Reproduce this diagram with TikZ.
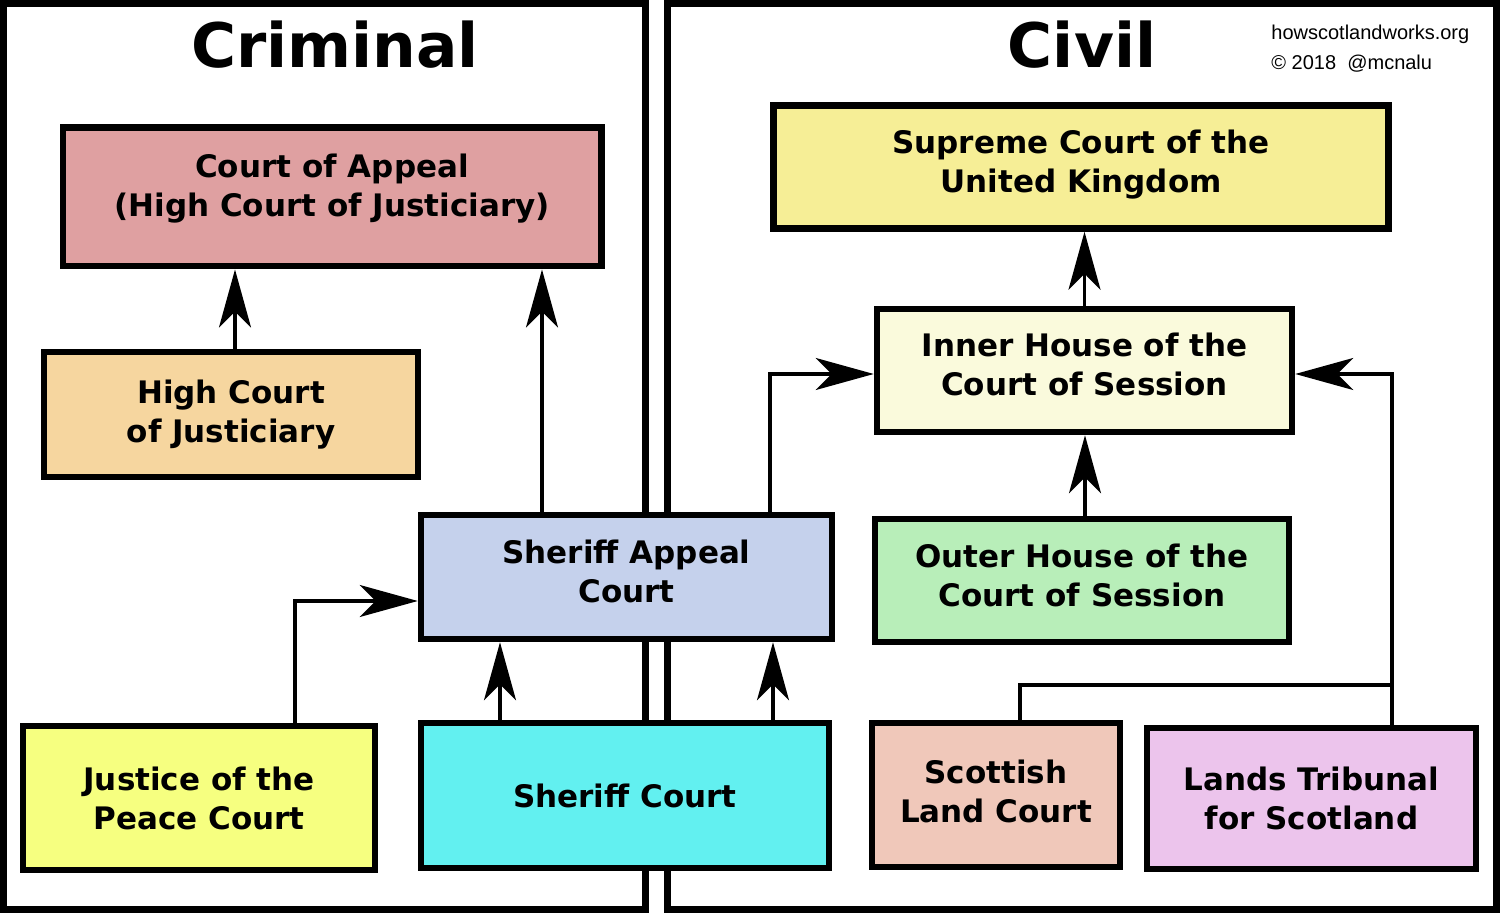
\documentclass[tikz,border=0pt]{standalone}
\usepackage{fontspec}
\setmainfont{DejaVu Sans}
\newfontfamily\creditfont{Liberation Sans}
\usetikzlibrary{calc,arrows.meta,positioning}
\definecolor{ct-appeal}{HTML}{DFA0A1}
\definecolor{ct-justiciary}{HTML}{F6D69F}
\definecolor{ct-sappeal}{HTML}{C5D1EC}
\definecolor{ct-peace}{HTML}{F6FF80}
\definecolor{ct-sheriff}{HTML}{62F0F0}
\definecolor{ct-supreme}{HTML}{F6EE96}
\definecolor{ct-inner}{HTML}{FAFADC}
\definecolor{ct-outer}{HTML}{B8EEB9}
\definecolor{ct-land}{HTML}{F0C8BA}
\definecolor{ct-tribunal}{HTML}{ECC4EC}

\begin{document}
\begin{tikzpicture}[x=0.5pt, y=-0.5pt, >={Stealth[length=29pt,width=16pt,inset=8pt]},
  court/.style={draw, line width=3.25pt, align=center, inner sep=0pt,
    font=\bfseries\fontsize{15.5}{19.5}\selectfont},
  link/.style={->, line width=1.6pt}]
\useasboundingbox (0,0) rectangle (1500,913);
% panels
\draw[line width=3.5pt] (3.5,3.5) rectangle (645.5,909.5);
\draw[line width=3.5pt] (667,3.5) rectangle (1496.5,909.5);
\node[anchor=base, font=\bfseries\fontsize{30.7}{36}\selectfont] (criminal) at (335,68) {Criminal};
\node[anchor=base, font=\bfseries\fontsize{30.7}{36}\selectfont] (civil) at (1082,68) {Civil};
\node[anchor=base west, inner sep=0pt, font=\creditfont\fontsize{10}{15}\selectfont] (site) at (1271,40) {howscotlandworks.org};
\node[anchor=base west, inner sep=0pt, font=\creditfont\fontsize{10}{15}\selectfont] (handle) at (1271,70) {© 2018\ \ @mcnalu};
% criminal courts
\node[court, fill=ct-appeal, minimum width=269.25pt, minimum height=69.25pt, text depth=11.5pt] (appeal) at (332,197) {Court of Appeal\\(High Court of Justiciary)};
\node[court, fill=ct-justiciary, minimum width=187pt, minimum height=62.5pt] (justiciary) at (231,414.5) {High Court\\of Justiciary};
\node[court, fill=ct-sappeal, minimum width=205.5pt, minimum height=62pt, text depth=6pt] (sappeal) at (626.5,577) {Sheriff Appeal\\Court};
\node[court, fill=ct-peace, minimum width=176pt, minimum height=72pt] (peace) at (199,798) {Justice of the\\Peace Court};
\node[court, fill=ct-sheriff, minimum width=204pt, minimum height=72.5pt] (sheriff) at (625,795.5) {Sheriff Court};
% civil courts
\node[court, fill=ct-supreme, minimum width=307.5pt, minimum height=61.5pt, text depth=5.5pt] (supreme) at (1081,167) {Supreme Court of the\\United Kingdom};
\node[court, fill=ct-inner, minimum width=207.5pt, minimum height=61.5pt, text depth=6pt] (inner) at (1084.5,370.5) {Inner House of the\\Court of Session};
\node[court, fill=ct-outer, minimum width=207pt, minimum height=61.5pt, text depth=5pt] (outer) at (1082,580.5) {Outer House of the\\Court of Session};
\node[court, fill=ct-land, minimum width=124pt, minimum height=72pt, text depth=4pt] (land) at (996,795) {Scottish\\Land Court};
\node[court, fill=ct-tribunal, minimum width=164.5pt, minimum height=70.5pt] (tribunal) at (1311.5,798.5) {Lands Tribunal\\for Scotland};
\coordinate (merge) at (1392,685);
% appeals
\draw[link] ([xshift=2pt]justiciary.north) -- ([xshift=2pt]justiciary.north |- appeal.south);
\draw[link] ([xshift=-42.25pt]sappeal.north) -- ([xshift=-42.25pt]sappeal.north |- appeal.south);
\draw[link] ([xshift=71.75pt]sappeal.north) |- ([yshift=-1.75pt]inner.west);
\draw[link] ([xshift=48pt]peace.north) |- ([yshift=-12pt]sappeal.west);
\draw[link] ([xshift=-62.5pt]sheriff.north) -- ([xshift=-62.5pt]sheriff.north |- sappeal.south);
\draw[link] ([xshift=74pt]sheriff.north) -- ([xshift=74pt]sheriff.north |- sappeal.south);
\draw[link] (inner.north) -- (inner.north |- supreme.south);
\draw[link] ([xshift=1.5pt]outer.north) -- ([xshift=1.5pt]outer.north |- inner.south);
\draw[link] ([xshift=40.25pt]tribunal.north) |- ([yshift=-1.75pt]inner.east);
\draw[line width=1.6pt] ([xshift=12pt]land.north) |- (merge);
\end{tikzpicture}
\end{document}
